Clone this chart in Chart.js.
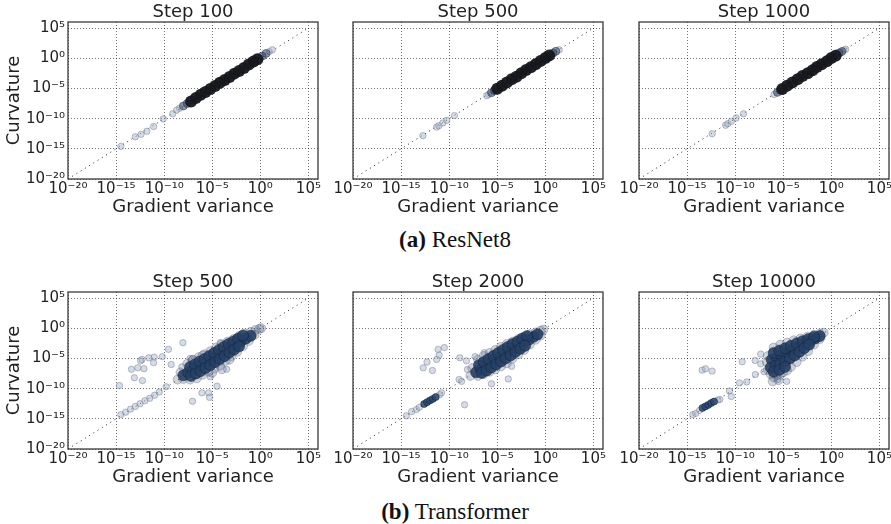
<!DOCTYPE html>
<html><head><meta charset="utf-8">
<script src="https://cdn.jsdelivr.net/npm/chart.js@4.4.0/dist/chart.umd.min.js"></script>
<style>
html,body{margin:0;padding:0;background:#fff;}
#fig{position:relative;width:891px;height:524px;overflow:hidden;background:#fff;}
canvas{position:absolute;}
.cap{position:absolute;font-family:'Liberation Serif','Times New Roman',serif;font-size:23px;line-height:23px;color:#111;white-space:nowrap;transform:translateX(-50%);}
</style></head><body><div id="fig">
<div class="cap" style="left:455px;top:228px;"><b>(a)</b> ResNet8</div>
<div class="cap" style="left:455px;top:500px;"><b>(b)</b> Transformer</div>
</div>
<script>
// ---- axis ticks ----
const tickExponents = [-20, -15, -10, -5, 0, 5];
const tickLabels = ['10⁻²⁰', '10⁻¹⁵', '10⁻¹⁰', '10⁻⁵', '10⁰', '10⁵'];
const axisMin = 1e-20, axisMax = 1e6;
const diagonal = [1e-20, 1e5];

// ---- data: log10(gradient variance) = *Gv, log10(curvature) = *Cv ----
// ResNet8, Step 100
const r100CoreGv = [-7.2,-6.7,-6.2,-5.7,-5.2,-4.7,-4.2,-3.7,-3.2,-2.7,-2.2,-1.7,-1.2,-0.7,-0.3];
const r100CoreCv = [-7.15,-6.6,-6.05,-5.6,-5.1,-4.6,-4.05,-3.6,-3.1,-2.55,-2.1,-1.6,-1.05,-0.55,-0.15];
const r100TaperGv = [-8.0,-7.6,0.2,0.6];
const r100TaperCv = [-7.9,-7.5,0.35,0.8];
const r100SparseGv = [-14.5,-13.0,-12.4,-11.8,-11.1,-10.1,-9.1,-8.4,-8.7,0.95,1.25];
const r100SparseCv = [-14.6,-13.0,-12.6,-12.1,-11.3,-10.05,-9.2,-8.3,-8.6,1.1,1.4];
// ResNet8, Step 500
const r500CoreGv = [-5.0,-4.5,-4.0,-3.5,-3.0,-2.5,-2.0,-1.5,-1.0,-0.5,0.0,0.4];
const r500CoreCv = [-5.05,-4.55,-4.0,-3.5,-3.05,-2.5,-1.95,-1.5,-1.0,-0.45,0.05,0.45];
const r500TaperGv = [-5.6,-5.3,0.8,1.1];
const r500TaperCv = [-5.7,-5.35,0.85,1.15];
const r500SparseGv = [-12.73,-11.3,-11.07,-10.66,-10.24,-9.45,-5.9,-6.1,1.45];
const r500SparseCv = [-12.83,-11.4,-11.17,-10.72,-10.28,-9.5,-6.0,-6.2,1.4];
// ResNet8, Step 1000
const r1000CoreGv = [-5.1,-4.6,-4.05,-3.5,-3.0,-2.45,-1.95,-1.5,-1.0,-0.45,0.0,0.45];
const r1000CoreCv = [-5.1,-4.55,-4.0,-3.5,-2.95,-2.5,-2.0,-1.45,-1.0,-0.5,0.05,0.4];
const r1000TaperGv = [-5.6,-5.3,0.8,1.1];
const r1000TaperCv = [-5.65,-5.3,0.85,1.1];
const r1000SparseGv = [-12.39,-11.0,-10.76,-10.4,-9.9,-9.13,-5.95,1.3,1.5];
const r1000SparseCv = [-12.5,-11.1,-10.83,-10.45,-9.9,-9.2,-6.0,1.35,1.5];
// Transformer, Step 500
const t500CoreGv = [-8.0,-7.5,-7.0,-6.5,-6.0,-5.5,-5.0,-4.5,-4.0,-3.5,-3.0,-2.5,-2.0,-1.5,-1.0,
  -7.3,-6.8,-6.3,-5.8,-5.3,-4.8,-4.3,-3.8,-3.3,-2.8,-2.3,-1.8,
  -7.2,-6.7,-6.2,-5.7,-5.2,-4.7,-4.2,-3.7,-3.2,-2.7,-2.2];
const t500CoreCv = [-7.8,-7.35,-6.9,-6.5,-6.1,-5.6,-5.1,-4.6,-4.1,-3.6,-3.15,-2.65,-2.15,-1.7,-1.25,
  -6.4,-6.0,-5.5,-5.1,-4.6,-4.1,-3.6,-3.1,-2.6,-2.2,-1.7,-1.2,
  -7.9,-7.5,-7.1,-6.6,-6.1,-5.6,-5.1,-4.6,-4.0,-3.5,-3.0];
const t500HaloGv = [-8.3,-7.6,-7.0,-6.4,-5.8,-5.2,-4.6,-4.0,-3.4,-2.8,-2.2,-1.6,-1.0,-0.5,-0.1,0.1,
  -8.6,-8.0,-7.3,-6.6,-6.0,-5.4,-4.8,-4.2,-3.6,-3.0,-2.4,-1.8,-1.2,-0.6,
  -7.0,-6.0,-4.0,-3.2,-5.0];
const t500HaloCv = [-7.3,-5.9,-5.3,-4.8,-4.3,-3.8,-3.2,-2.7,-2.2,-1.8,-1.3,-0.9,-0.6,-0.3,-0.1,0.0,
  -8.5,-8.4,-8.5,-8.3,-7.7,-7.2,-6.7,-6.2,-5.4,-4.6,-3.9,-3.0,-2.1,-1.1,
  -5.2,-4.5,-6.8,-5.2,-7.4];
const t500SparseGv = [-8.05,-9.55,-11.04,-10.2,-11.6,-12.3,-12.45,-11.1,-12.1,-13.4,-12.74,-13.1,-12.26,-14.65,-9.27,-8.16,-7.3,-4.17,-5.2,-4.5,-6.07,-5.38,-5.28,-7.05,-3.5,-14.5,-14.0,-13.5,-13.0,-12.5,-12.0,-11.5,-11.0,-10.5,-9.8];
const t500SparseCv = [-2.4,-3.5,-4.78,-4.7,-4.9,-5.17,-5.4,-5.7,-6.7,-6.8,-6.55,-8.2,-8.67,-9.5,-6.0,-6.4,-5.0,-2.38,-8.05,-9.6,-10.7,-10.7,-11.45,-12.1,-6.8,-14.3,-13.9,-13.4,-12.95,-12.5,-12.0,-11.6,-11.1,-10.55,-9.7];
const t500LowGv = [];
const t500LowCv = [];
// Transformer, Step 2000
const t2000CoreGv = [-7.2,-6.7,-6.2,-5.7,-5.2,-4.7,-4.2,-3.7,-3.2,-2.7,-2.2,-1.7,-1.2,-0.8,
  -6.9,-6.4,-5.9,-5.4,-4.9,-4.4,-3.9,-3.4,-2.9,-2.4,-1.9,
  -6.6,-6.1,-5.6,-5.1,-4.6,-4.1,-3.6,-3.1,-2.6,-2.1];
const t2000CoreCv = [-7.3,-6.8,-6.3,-5.8,-5.3,-4.8,-4.3,-3.8,-3.3,-2.85,-2.35,-1.9,-1.4,-1.0,
  -6.1,-5.6,-5.1,-4.6,-4.1,-3.6,-3.1,-2.6,-2.2,-1.7,-1.3,
  -7.4,-7.0,-6.5,-6.0,-5.5,-5.0,-4.5,-3.9,-3.4,-2.9];
const t2000HaloGv = [-7.6,-7.0,-6.4,-5.8,-5.2,-4.6,-4.0,-3.4,-2.8,-2.2,-1.6,-1.0,-0.5,-0.2,
  -7.8,-7.0,-6.4,-5.8,-5.2,-4.6,-4.0,-3.4,-2.8,-2.2,-1.6,-1.0,-0.5];
const t2000HaloCv = [-6.6,-5.2,-4.6,-4.1,-3.6,-3.1,-2.6,-2.2,-1.8,-1.4,-1.0,-0.7,-0.4,-0.25,
  -7.9,-7.9,-7.6,-7.2,-6.8,-6.3,-5.8,-5.0,-4.3,-3.6,-2.7,-1.9,-1.2];
const t2000SparseGv = [-11.15,-10.5,-11.04,-11.3,-12.3,-12.7,-11.74,-8.9,-7.3,-6.35,-8.1,-8.2,-8.96,-8.7,-5.6,-8.4,-3.85,-3.5,-6.74,-14.44,-13.9,-13.4,-13.1,-11.0,-10.8];
const t2000SparseCv = [-3.5,-3.2,-4.44,-5.17,-5.6,-6.56,-7.0,-4.9,-4.7,-4.05,-6.83,-5.4,-8.5,-8.8,-9.2,-12.67,-8.4,-6.3,-6.83,-14.5,-13.8,-13.45,-13.1,-11.0,-10.7];
const t2000LowGv = [-12.6,-12.3,-12.0,-11.7,-11.4];
const t2000LowCv = [-12.55,-12.25,-11.95,-11.7,-11.4];
// Transformer, Step 10000
const t10000CoreGv = [-6.2,-5.7,-5.2,-4.7,-4.2,-3.7,-3.2,-2.7,-2.2,-1.7,-1.2,
  -6.0,-5.4,-4.8,-4.2,-3.6,-3.0,-2.4,-1.8,
  -6.3,-5.8,-5.3,-4.8,-4.3,-3.8,-3.3,-2.8,-2.3,
  -6.0,-5.4,-4.8];
const t10000CoreCv = [-5.2,-4.85,-4.5,-4.1,-3.7,-3.3,-2.9,-2.5,-2.1,-1.7,-1.3,
  -4.1,-3.7,-3.3,-2.9,-2.5,-2.15,-1.8,-1.4,
  -6.5,-6.2,-5.9,-5.5,-5.0,-4.5,-3.9,-3.3,-2.7,
  -7.2,-6.9,-6.4];
const t10000HaloGv = [-6.6,-6.0,-5.3,-4.6,-3.9,-3.2,-2.5,-1.8,-1.2,-0.8,
  -6.7,-6.6,-6.3,-6.0,-5.7,-5.3,-5.0,-4.6,-4.2,-3.6,-3.0,-2.4,-1.8,-1.2,-6.1,-5.5];
const t10000HaloCv = [-4.6,-3.2,-2.7,-2.4,-2.0,-1.7,-1.4,-1.1,-0.9,-0.75,
  -5.6,-6.9,-7.6,-8.1,-7.8,-7.7,-7.3,-7.0,-6.4,-5.6,-4.7,-3.8,-2.7,-1.8,-8.8,-8.6];
const t10000SparseGv = [-13.43,-13.08,-12.4,-9.27,-7.92,-7.34,-7.34,-4.64,-5.57,-9.55,-8.8,-10.6,-10.4,-7.9,-7.0,-14.4,-14.1,-13.7,-11.8,-11.6];
const t10000SparseCv = [-6.94,-6.72,-7.1,-5.56,-5.33,-4.28,-5.9,-8.8,-8.5,-9.05,-8.9,-10.4,-11.3,-7.67,-7.2,-14.3,-14.1,-13.6,-11.9,-11.8];
const t10000LowGv = [-13.4,-13.1,-12.8,-12.5,-12.2];
const t10000LowCv = [-13.2,-12.95,-12.7,-12.4,-12.15];

// ---- styles ----
const STY = {
  rCore:  {pointRadius:6, pointBorderWidth:0, pointBackgroundColor:'rgba(22,24,30,0.95)', pointBorderColor:'rgba(22,24,30,0.95)', order:1},
  rTaper: {pointRadius:4, pointBorderWidth:0.8, pointBackgroundColor:'rgba(45,65,100,0.55)', pointBorderColor:'rgba(30,40,60,0.6)', order:2},
  tCore:  {pointRadius:5.5, pointBorderWidth:0.6, pointBackgroundColor:'rgba(38,64,102,0.9)', pointBorderColor:'rgba(18,28,45,0.75)', order:1},
  tLow:   {pointRadius:3.5, pointBorderWidth:0.8, pointBackgroundColor:'rgba(42,72,115,0.85)', pointBorderColor:'rgba(15,25,40,0.7)', order:1},
  tHalo:  {pointRadius:4.5, pointBorderWidth:0.8, pointBackgroundColor:'rgba(95,112,145,0.3)', pointBorderColor:'rgba(55,65,85,0.35)', order:2},
  sparse: {pointRadius:3.2, pointBorderWidth:0.8, pointBackgroundColor:'rgba(165,178,202,0.45)', pointBorderColor:'rgba(95,105,125,0.5)', order:3}
};

const panels = [
  {title:'Step 100',   col:0, row:0, sets:[['rCore',r100CoreGv,r100CoreCv],['rTaper',r100TaperGv,r100TaperCv],['sparse',r100SparseGv,r100SparseCv]]},
  {title:'Step 500',   col:1, row:0, sets:[['rCore',r500CoreGv,r500CoreCv],['rTaper',r500TaperGv,r500TaperCv],['sparse',r500SparseGv,r500SparseCv]]},
  {title:'Step 1000',  col:2, row:0, sets:[['rCore',r1000CoreGv,r1000CoreCv],['rTaper',r1000TaperGv,r1000TaperCv],['sparse',r1000SparseGv,r1000SparseCv]]},
  {title:'Step 500',   col:0, row:1, sets:[['tCore',t500CoreGv,t500CoreCv],['tLow',t500LowGv,t500LowCv],['tHalo',t500HaloGv,t500HaloCv],['sparse',t500SparseGv,t500SparseCv]]},
  {title:'Step 2000',  col:1, row:1, sets:[['tCore',t2000CoreGv,t2000CoreCv],['tLow',t2000LowGv,t2000LowCv],['tHalo',t2000HaloGv,t2000HaloCv],['sparse',t2000SparseGv,t2000SparseCv]]},
  {title:'Step 10000', col:2, row:1, sets:[['tCore',t10000CoreGv,t10000CoreCv],['tLow',t10000LowGv,t10000LowCv],['tHalo',t10000HaloGv,t10000HaloCv],['sparse',t10000SparseGv,t10000SparseCv]]}
];

// ---- layout ----
const plotLeft = [68, 353, 639];
const plotTop = [22, 292];
const yAxisW = [68, 24, 24];
const plotW = 250, plotH = 157, padTop = 4, titleH = 20, padRight = 16, xAxisH = 40;

Chart.defaults.font.family = "'DejaVu Sans', sans-serif";
Chart.defaults.color = '#222';

const tickValues = tickExponents.map(e => Math.pow(10, e));
const toPts = (xs, ys) => xs.map((e, i) => ({x: Math.pow(10, e), y: Math.pow(10, ys[i])}));

const framePlugin = {
  id: 'frame',
  afterDatasetsDraw(chart) {
    const {ctx, chartArea: a} = chart;
    ctx.save();
    ctx.strokeStyle = '#3a3a3a';
    ctx.lineWidth = 1.3;
    ctx.strokeRect(a.left, a.top, a.right - a.left, a.bottom - a.top);
    ctx.restore();
  }
};

const fig = document.getElementById('fig');
panels.forEach(p => {
  const yw = yAxisW[p.col];
  const cv = document.createElement('canvas');
  const W = yw + plotW + padRight, H = padTop + titleH + plotH + xAxisH;
  cv.width = W; cv.height = H;
  cv.style.width = W + 'px'; cv.style.height = H + 'px';
  cv.style.left = (plotLeft[p.col] - yw) + 'px';
  cv.style.top = (plotTop[p.row] - padTop - titleH) + 'px';
  fig.appendChild(cv);

  const datasets = [{
    type: 'line', data: [{x: diagonal[0], y: diagonal[0]}, {x: diagonal[1], y: diagonal[1]}],
    borderColor: '#222', borderWidth: 1, borderDash: [1, 4], pointRadius: 0, fill: false, order: 4
  }];
  p.sets.forEach(([sty, gx, cy]) => {
    datasets.push(Object.assign({type: 'scatter', data: toPts(gx, cy)}, STY[sty]));
  });

  const gridOpts = {color: 'rgba(0,0,0,0.55)', lineWidth: 1, drawTicks: false};
  const borderOpts = {display: false, dash: [1, 2]};
  const first = p.col === 0;
  new Chart(cv, {
    type: 'scatter',
    data: {datasets},
    plugins: [framePlugin],
    options: {
      responsive: false, animation: false, devicePixelRatio: 1,
      layout: {padding: {top: padTop, left: 0, right: padRight, bottom: 0}},
      plugins: {
        legend: {display: false}, tooltip: {enabled: false},
        title: {display: true, text: p.title, fullSize: false, padding: 0, color: '#222',
                font: {size: 18, weight: 'normal', lineHeight: titleH / 18}}
      },
      scales: {
        x: {
          type: 'logarithmic', position: 'bottom', min: axisMin, max: axisMax,
          afterBuildTicks: s => { s.ticks = tickValues.map(v => ({value: v})); },
          afterFit: s => { s.height = xAxisH; },
          ticks: {autoSkip: false, maxRotation: 0, minRotation: 0, padding: 1, color: '#222',
                  font: {size: 15}, callback: (v, i) => tickLabels[i]},
          grid: gridOpts, border: borderOpts,
          title: {display: true, text: 'Gradient variance', color: '#222', font: {size: 18}, padding: {top: 0, bottom: 1}}
        },
        y: {
          type: 'logarithmic', position: 'left', min: axisMin, max: axisMax,
          afterBuildTicks: s => { s.ticks = tickValues.map(v => ({value: v})); },
          afterFit: s => { s.width = yw; },
          ticks: {display: first, autoSkip: false, padding: 3, color: '#222',
                  font: {size: 15}, callback: (v, i) => tickLabels[i]},
          grid: gridOpts, border: borderOpts,
          title: {display: first, text: 'Curvature', color: '#222', font: {size: 18}, padding: {top: 4, bottom: 0}}
        }
      }
    }
  });
});
</script>
</body></html>
